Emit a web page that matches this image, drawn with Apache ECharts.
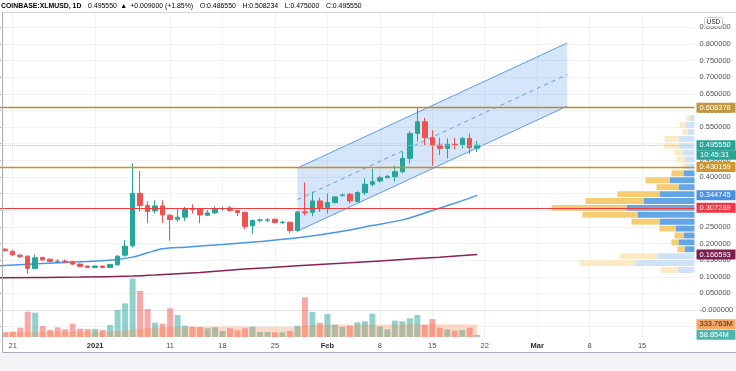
<!DOCTYPE html>
<html><head><meta charset="utf-8">
<script src="https://cdn.jsdelivr.net/npm/echarts@6/dist/echarts.min.js"></script>
<style>html,body{margin:0;padding:0;background:#fff}#c{width:736px;height:371px}</style>
</head><body><div id="c"></div>
<script>
// ---------- DATA ----------
const symbolTitle = 'COINBASE:XLMUSD, 1D';
const headerLast = '0.495550';
const headerChange = '+0.009000 (+1.85%)';
const headerOHLC = [['O:', '0.486550'], ['H:', '0.508234'], ['L:', '0.475000'], ['C:', '0.495550']];
const countdown = '10:45:31';

const axisStart = '2020-12-19';
const axisDays = 94;
const candleStart = '2020-12-20';

const tickDates = ['2020-12-21','2021-01-01','2021-01-11','2021-01-18','2021-01-25','2021-02-01','2021-02-08','2021-02-15','2021-02-22','2021-03-01','2021-03-08','2021-03-15'];
const tickLabels = ['21','2021','11','18','25','Feb','8','15','22','Mar','8','15'];
const boldTicks = ['2021','Feb','Mar'];

// [open, close, low, high]
const ohlc = [
 [0.183,0.178,0.176,0.186],[0.176,0.166,0.162,0.181],[0.165,0.161,0.156,0.169],[0.162,0.125,0.110,0.164],
 [0.125,0.157,0.123,0.167],[0.158,0.151,0.148,0.160],[0.153,0.146,0.144,0.155],[0.147,0.146,0.140,0.153],
 [0.147,0.145,0.141,0.152],[0.145,0.138,0.135,0.148],[0.138,0.131,0.129,0.140],[0.132,0.128,0.126,0.134],
 [0.128,0.132,0.126,0.134],[0.132,0.128,0.126,0.134],[0.128,0.137,0.126,0.139],[0.136,0.162,0.133,0.165],
 [0.165,0.192,0.160,0.210],[0.193,0.351,0.188,0.441],[0.351,0.314,0.296,0.418],[0.314,0.296,0.261,0.327],
 [0.298,0.313,0.290,0.330],[0.313,0.286,0.262,0.330],[0.285,0.272,0.208,0.288],[0.273,0.279,0.266,0.304],
 [0.279,0.304,0.268,0.310],[0.304,0.302,0.290,0.318],[0.304,0.286,0.261,0.307],[0.285,0.292,0.282,0.300],
 [0.292,0.304,0.288,0.312],[0.304,0.305,0.298,0.311],[0.307,0.299,0.295,0.313],[0.299,0.293,0.282,0.301],
 [0.294,0.251,0.243,0.296],[0.253,0.269,0.229,0.272],[0.270,0.271,0.263,0.275],[0.270,0.271,0.264,0.276],
 [0.273,0.263,0.260,0.275],[0.263,0.264,0.259,0.268],[0.264,0.239,0.231,0.266],[0.239,0.295,0.236,0.298],
 [0.295,0.292,0.284,0.384],[0.294,0.328,0.282,0.356],[0.328,0.308,0.295,0.338],[0.308,0.323,0.290,0.350],
 [0.323,0.340,0.320,0.342],[0.344,0.346,0.342,0.350],[0.348,0.328,0.320,0.352],[0.326,0.353,0.324,0.357],
 [0.353,0.378,0.346,0.396],[0.378,0.386,0.371,0.424],[0.388,0.398,0.384,0.404],[0.398,0.402,0.396,0.406],
 [0.401,0.416,0.386,0.434],[0.416,0.456,0.411,0.476],[0.456,0.531,0.441,0.538],[0.531,0.566,0.506,0.6084],
 [0.566,0.518,0.496,0.578],[0.518,0.496,0.434,0.541],[0.496,0.486,0.466,0.518],[0.486,0.498,0.456,0.516],
 [0.498,0.497,0.483,0.518],[0.498,0.516,0.486,0.521],[0.516,0.488,0.469,0.531],[0.48655,0.49555,0.475,0.508234]
];
// volume in millions
const volume = [124,141,246,669,642,290,185,255,203,352,220,211,211,185,317,713,889,1545,1214,739,378,352,757,581,299,273,264,229,255,158,229,176,
 229,273,132,132,123,123,158,299,1047,660,378,607,325,264,299,387,414,616,273,203,431,414,493,581,317,475,246,203,167,185,246,58.854];
const volumeMA = [135,136,138,140,142,142,143,143,143,144,144,144,145,146,
 150,165,185,205,225,240,250,258,265,
 270,272,273,274,274,275,275,275,274,273,272,272,272,271,270,270,272,
 300,315,320,325,327,328,329,330,331,332,332,333,333,334,334,334,335,335,334,334,334,334,334,333.763];

const maFastDates = ['2020-12-19','2020-12-25','2020-12-31','2021-01-04','2021-01-06','2021-01-08','2021-01-10','2021-01-13','2021-01-18','2021-01-23','2021-01-28','2021-02-02','2021-02-07','2021-02-11','2021-02-15','2021-02-18','2021-02-21'];
const maFast = [0.133,0.140,0.146,0.152,0.159,0.172,0.184,0.189,0.197,0.206,0.217,0.233,0.254,0.271,0.299,0.321,0.344745];
const maSlowDates = ['2020-12-19','2020-12-30','2021-01-06','2021-01-09','2021-01-15','2021-01-21','2021-01-28','2021-02-04','2021-02-11','2021-02-16','2021-02-21'];
const maSlow = [0.097,0.099,0.102,0.105,0.113,0.123,0.133,0.142,0.152,0.159,0.166593];

const channelDates = ['2021-01-28','2021-03-05'];
const channelLower = [0.237, 0.613];
const channelUpper = [0.427, 0.803];

const levelHigh = 0.608378, levelMid = 0.430159, levelLow = 0.307289;
const lastPrice = 0.49555;

const profileStart = 0.110, profileStep = 0.02075;
const profileUp =   [170,590,380,100,160,110,190,350,570,680,510,350,160,250,110,80,100,120,160,160,70,90,50];
const profileDown = [170,560,370, 70, 70, 90,160,280,550,750,580,420,220,240,120,40, 80, 80,150,140,50,60,30];
const valueArea = [3, 14];

// ---------- BUILD ----------
function addDays(s, n){ const d = new Date(s + 'T00:00:00Z'); d.setUTCDate(d.getUTCDate() + n); return d.toISOString().slice(0, 10); }
const dates = Array.from({length: axisDays}, (_, i) => addDays(axisStart, i));
const c0 = dates.indexOf(candleStart);
const tickMap = {}; tickDates.forEach((d, i) => tickMap[d] = tickLabels[i]);

const UP = '#26a69a', DOWN = '#ef5350';
const FONT = 'Liberation Sans';

const candleData = ohlc.map((v, k) => [c0 + k, v[0], v[1], v[2], v[3]]);
const volData = volume.map((v, k) => ({value: [c0 + k, v], itemStyle: {color: ohlc[k][1] >= ohlc[k][0] ? 'rgba(38,166,154,0.5)' : 'rgba(239,83,80,0.5)'}}));
const volMAData = volumeMA.map((v, k) => [c0 + k, v]);
const fastData = maFastDates.map((d, i) => [dates.indexOf(d), maFast[i]]);
const slowData = maSlowDates.map((d, i) => [dates.indexOf(d), maSlow[i]]);
const chI = channelDates.map(d => dates.indexOf(d));

// a level line / price tag on the right scale
function level(value, yAxisIndex, text, bg, fg, lineStyle){
  return {
    type: 'line', xAxisIndex: 0, yAxisIndex: yAxisIndex, data: [], silent: true, z: 5,
    markLine: {
      symbol: 'none', silent: true, precision: 6, animation: false,
      lineStyle: lineStyle || {color: 'rgba(0,0,0,0)', width: 0},
      label: {show: true, position: 'end', distance: 2, formatter: text, color: fg || '#fff', backgroundColor: bg,
        padding: [1, 3, 1, 3], fontSize: 7.5, lineHeight: 8, width: 33, align: 'left', fontFamily: FONT},
      data: [{yAxis: value}]
    }
  };
}
const PLEFT = -2.25, PRIGHT = 41.5;

const chart = echarts.init(document.getElementById('c'), null, {renderer: 'canvas'});
const option = {
  animation: false,
  backgroundColor: '#fff',
  textStyle: {fontFamily: FONT},
  grid: [
    {left: PLEFT, right: PRIGHT, top: 13, bottom: 34, outerBoundsMode: 'none', containLabel: false},
    {left: PLEFT, right: PRIGHT, top: 27.375, bottom: 44.375, outerBoundsMode: 'none', containLabel: false}
  ],
  xAxis: [
    {type: 'category', gridIndex: 0, data: dates, boundaryGap: false,
     axisLine: {show: true, lineStyle: {color: '#e3e5ea'}}, axisTick: {show: false},
     axisLabel: {interval: (i, v) => v in tickMap, formatter: v => boldTicks.includes(tickMap[v]) ? '{b|' + tickMap[v] + '}' : (tickMap[v] || ''),
       color: '#4a4d57', fontSize: 7.5, margin: 5, fontFamily: FONT, rich: {b: {fontWeight: 'bold', fontSize: 7.5, color: '#2a2e39', fontFamily: FONT}}},
     splitLine: {show: true, interval: (i, v) => v in tickMap, lineStyle: {color: '#f0f2f5', width: 1}}},
    {type: 'value', gridIndex: 0, inverse: true, min: 0, max: 6967.5, show: false},
    {type: 'value', gridIndex: 1, min: 0, max: 1, show: false}
  ],
  yAxis: [
    {type: 'value', gridIndex: 0, min: -0.0812, max: 0.8932, show: false},
    {type: 'value', gridIndex: 0, min: 0, max: 8554, show: false},
    {type: 'value', gridIndex: 1, position: 'right', min: -0.05, max: 0.85, interval: 0.05,
     axisLine: {show: false}, axisTick: {show: true, length: 3, lineStyle: {color: '#9598a1'}},
     axisLabel: {margin: 5, color: '#50535e', fontSize: 7.5, fontFamily: FONT, showMinLabel: true, showMaxLabel: true,
       formatter: v => Math.abs(v) < 1e-9 ? '-0.000000' : v.toFixed(6)},
     splitLine: {show: true, lineStyle: {color: '#f0f2f5', width: 1}}}
  ],
  series: [
    { // parallel channel
      type: 'custom', xAxisIndex: 0, yAxisIndex: 0, z: 1, silent: true,
      data: [[chI[0], channelLower[0]]],
      renderItem: function(params, api){
        const a = api.coord([chI[0], channelLower[0]]), b = api.coord([chI[1], channelLower[1]]);
        const c = api.coord([chI[1], channelUpper[1]]), d = api.coord([chI[0], channelUpper[0]]);
        const m0 = [(a[0] + d[0]) / 2, (a[1] + d[1]) / 2], m1 = [(b[0] + c[0]) / 2, (b[1] + c[1]) / 2];
        return {type: 'group', children: [
          {type: 'polygon', shape: {points: [a, b, c, d]}, style: {fill: 'rgba(66,135,230,0.22)'}},
          {type: 'line', shape: {x1: a[0], y1: a[1], x2: b[0], y2: b[1]}, style: {stroke: '#5b9cf6', lineWidth: 1}},
          {type: 'line', shape: {x1: d[0], y1: d[1], x2: c[0], y2: c[1]}, style: {stroke: '#5b9cf6', lineWidth: 1}},
          {type: 'line', shape: {x1: m0[0], y1: m0[1], x2: m1[0], y2: m1[1]}, style: {stroke: '#5b9cf6', lineWidth: 1, lineDash: [4, 4]}}
        ]};
      }
    },
    { // visible range volume profile
      type: 'custom', xAxisIndex: 1, yAxisIndex: 0, z: 1, silent: true,
      data: profileUp.map((u, i) => [i, u, profileDown[i]]),
      renderItem: function(params, api){
        const i = api.value(0), up = api.value(1), dn = api.value(2);
        const pLo = profileStart + i * profileStep, pHi = pLo + profileStep;
        const yTop = api.coord([0, pHi])[1] + 0.5, yBot = api.coord([0, pLo])[1] - 0.5;
        const x0 = api.coord([0, pLo])[0], xU = api.coord([up, pLo])[0], xT = api.coord([up + dn, pLo])[0];
        const inVA = i >= valueArea[0] && i <= valueArea[1];
        return {type: 'group', children: [
          {type: 'rect', shape: {x: xU, y: yTop, width: x0 - xU, height: yBot - yTop}, style: {fill: inVA ? '#64a5e6' : '#cfe2f6'}},
          {type: 'rect', shape: {x: xT, y: yTop, width: xU - xT, height: yBot - yTop}, style: {fill: inVA ? '#f5cd73' : '#fbeac3'}}
        ]};
      }
    },
    { // volume bars
      type: 'bar', xAxisIndex: 0, yAxisIndex: 1, barWidth: 6, z: 2, silent: true, data: volData
    },
    { // volume MA
      type: 'line', xAxisIndex: 0, yAxisIndex: 1, step: 'middle', symbol: 'none', z: 3, silent: true,
      data: volMAData, lineStyle: {width: 0}, areaStyle: {color: 'rgba(247,124,56,0.4)'}
    },
    { // slow MA
      type: 'line', xAxisIndex: 0, yAxisIndex: 0, smooth: 0.3, symbol: 'none', z: 2, silent: true,
      data: slowData, lineStyle: {color: '#8b2252', width: 1.5}
    },
    { // fast MA
      type: 'line', xAxisIndex: 0, yAxisIndex: 0, smooth: 0.3, symbol: 'none', z: 2, silent: true,
      data: fastData, lineStyle: {color: '#4a96ea', width: 1.5}
    },
    { // candles
      type: 'candlestick', xAxisIndex: 0, yAxisIndex: 0, z: 3, silent: true, barWidth: 5,
      encode: {x: 0, y: [1, 2, 3, 4]},
      data: candleData,
      itemStyle: {color: UP, color0: DOWN, borderColor: UP, borderColor0: DOWN, borderWidth: 1}
    },
    level(levelHigh, 0, levelHigh.toFixed(6), '#bf983f', '#fff', {color: '#b88d25', width: 1.3, type: 'solid'}),
    level(levelMid, 0, levelMid.toFixed(6), '#cf962a', '#fff', {color: '#cc8f1c', width: 1.3, type: 'solid'}),
    level(levelLow, 0, levelLow.toFixed(6), '#f23645', '#fff', {color: '#ef3b3b', width: 1, type: 'solid'}),
    level(lastPrice, 0, lastPrice.toFixed(6), UP, '#fff', {color: '#8ccfc7', width: 1, type: 'dotted'}),
    level(maFast[maFast.length - 1], 0, maFast[maFast.length - 1].toFixed(6), '#4a90e2', '#fff'),
    level(maSlow[maSlow.length - 1], 0, maSlow[maSlow.length - 1].toFixed(6), '#7d1d50', '#fff'),
    level(volumeMA[volumeMA.length - 1], 1, volumeMA[volumeMA.length - 1].toFixed(3) + 'M', '#f6a664', '#3b2a1a'),
    level(volume[volume.length - 1], 1, volume[volume.length - 1].toFixed(3) + 'M', '#4db6ac', '#fff')
  ]
};
chart.setOption(option);

// static decorations + countdown under last price tag
const yLast = chart.convertToPixel({yAxisIndex: 0}, lastPrice);
const headerRich = {
  s: {fontWeight: 'bold', fontSize: 6.9, color: '#131722', fontFamily: FONT},
  n: {fontSize: 6.9, color: '#131722', fontFamily: FONT},
  g: {fontSize: 6.9, color: UP, fontFamily: FONT}
};
let headerText = '{s|' + symbolTitle + '}  {n|' + headerLast + '} {g|▲} {n|' + headerChange + '}';
headerOHLC.forEach(p => { headerText += '  {n|' + p[0] + '}{g|' + p[1] + '}'; });

chart.setOption({graphic: [
  {type: 'rect', shape: {x: 0, y: 352.5, width: 736, height: 19}, style: {fill: '#f3f4f6'}, z: 10},
  {type: 'line', shape: {x1: 2.5, y1: 352.5, x2: 736, y2: 352.5}, style: {stroke: '#a9acb4', lineWidth: 1}, z: 11},
  {type: 'line', shape: {x1: 2.5, y1: 12.5, x2: 736, y2: 12.5}, style: {stroke: '#d3d6dc', lineWidth: 1}, z: 11},
  {type: 'line', shape: {x1: 2.5, y1: 12.5, x2: 2.5, y2: 352.5}, style: {stroke: '#a9acb4', lineWidth: 1}, z: 11},
  {type: 'text', x: 1, y: 6.5, style: {text: headerText, rich: headerRich, verticalAlign: 'middle', align: 'left'}, z: 11},
  {type: 'rect', shape: {x: 704.5, y: 17.5, width: 18, height: 9, r: 2}, style: {fill: '#fff', stroke: '#c5c8ce', lineWidth: 1}, z: 11},
  {type: 'text', x: 713.5, y: 22, style: {text: 'USD', fontSize: 6.3, fill: '#131722', fontFamily: FONT, align: 'center', verticalAlign: 'middle'}, z: 12},
  {type: 'rect', shape: {x: 696.5, y: yLast + 5, width: 39.5, height: 9.5}, style: {fill: '#2aa596'}, z: 11},
  {type: 'text', x: 700, y: yLast + 9.9, style: {text: countdown, fontSize: 7.5, fill: '#fff', fontFamily: FONT, verticalAlign: 'middle'}, z: 12},
  // TradingView logo
  {type: 'group', z: 12, children: [
    {type: 'circle', shape: {cx: 8, cy: 363.5, r: 2.6}, style: {fill: '#2196f3'}},
    {type: 'circle', shape: {cx: 11.8, cy: 361.3, r: 3.6}, style: {fill: '#2196f3'}},
    {type: 'circle', shape: {cx: 15.5, cy: 363.5, r: 2.6}, style: {fill: '#2196f3'}},
    {type: 'rect', shape: {x: 8, y: 363, width: 7.5, height: 3.1}, style: {fill: '#2196f3'}},
    {type: 'text', x: 20, y: 363.5, style: {text: 'TradingView', fontSize: 7.5, fill: '#131722', fontFamily: FONT, verticalAlign: 'middle'}}
  ]}
]});
</script>
</body></html>
